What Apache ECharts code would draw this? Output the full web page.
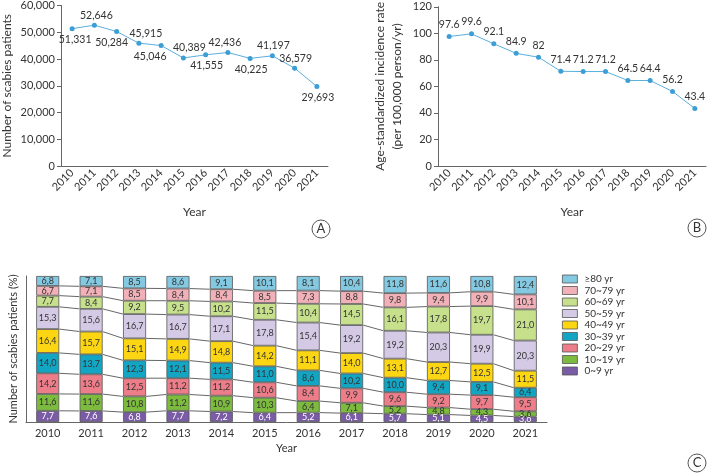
<!DOCTYPE html>
<html><head><meta charset="utf-8">
<script src="https://cdn.jsdelivr.net/npm/echarts@6/dist/echarts.min.js"></script>
<style>html,body{margin:0;padding:0;background:#fff}#c{width:707px;height:475px}</style>
</head><body><div id="c"></div>
<script>
const years = ['2010','2011','2012','2013','2014','2015','2016','2017','2018','2019','2020','2021'];
const patients = [51331,52646,50284,45915,45046,40389,41555,42436,40225,41197,36579,29693];
const incidence = [97.6,99.6,92.1,84.9,82,71.4,71.2,71.2,64.5,64.4,56.2,43.4];
const ageGroups = ['0~9 yr','10~19 yr','20~29 yr','30~39 yr','40~49 yr','50~59 yr','60~69 yr','70~79 yr','≥80 yr'];
const age0_9   = [7.7,7.6,6.8,7.7,7.2,6.4,5.2,6.1,5.7,5.1,4.5,3.6];
const age10_19 = [11.6,11.6,10.8,11.2,10.9,10.3,6.4,7.1,5.2,4.8,4.3,3.6];
const age20_29 = [14.2,13.6,12.5,11.2,11.2,10.6,8.4,9.9,9.6,9.2,9.7,9.5];
const age30_39 = [14.0,13.7,12.3,12.1,11.5,11.0,8.6,10.2,10.0,9.4,9.1,6.4];
const age40_49 = [16.4,15.7,15.1,14.9,14.8,14.2,11.1,14.0,13.1,12.7,12.5,11.5];
const age50_59 = [15.3,15.6,16.7,16.7,17.1,17.8,15.4,19.2,19.2,20.3,19.9,20.3];
const age60_69 = [7.7,8.4,9.2,9.5,10.2,11.5,10.4,14.5,16.1,17.8,19.7,21.0];
const age70_79 = [6.7,7.1,8.5,8.4,8.4,8.5,7.3,8.8,9.8,9.4,9.9,10.1];
const age80p   = [6.8,7.1,8.5,8.6,9.1,10.1,8.1,10.4,11.8,11.6,10.8,12.4];
const yTicksA = [0,10000,20000,30000,40000,50000,60000];
const yTicksB = [0,20,40,60,80,100,120];

const ageData = [age0_9,age10_19,age20_29,age30_39,age40_49,age50_59,age60_69,age70_79,age80p];
const ageColors = ['#7a5ba6','#7dbb3f','#ec7d89','#12a6c4','#fcd612','#d5cae6','#c6e08c','#f2b1b8','#84c9e2'];
// label placement style for panel A (above / below the point, small horizontal nudge in px)
const labelAboveA = [false,true,false,true,false,true,false,true,false,true,true,false];
const labelNudgeA = [3,2,-5,7,-11,6,1,-3,1,1,1,1];

const totals = years.map((y,i)=>ageData.reduce((s,a)=>s+a[i],0));
const shares = ageData.map(a=>a.map((v,i)=>v/totals[i]*100));
const cum = years.map((y,i)=>{let s=0;const r=[];for(let k=0;k<shares.length-1;k++){s+=shares[k][i];r.push(s);}return r;});

const BW = 23;
const font = 'Lato, "Noto Sans", sans-serif';
const axisCol = '#666';
const txt = '#333';

const chart = echarts.init(document.getElementById('c'));

const barSeries = ageGroups.map((g,k)=>({
  name:g, type:'bar', stack:'age', xAxisIndex:2, yAxisIndex:2, barWidth:BW,
  data: shares[k].map((v,i)=>({value:v, raw:ageData[k][i]})),
  itemStyle:{color:ageColors[k], borderColor:'#555', borderWidth:0.8},
  label:{show:true, position:'inside', fontSize:9, fontFamily:font, color: k===0 ? '#fff' : txt,
    formatter:p=>p.data.raw.toFixed(1).replace('.',',')},
  z:3
}));

const option = {
  animation:false,
  textStyle:{fontFamily:font},
  grid:[
    {left:61, top:4, width:267, height:162},
    {left:438, top:4, width:268, height:162},
    {left:19, top:276, width:528, height:146}
  ],
  xAxis:[
    {gridIndex:0, type:'category', data:years, boundaryGap:true, name:'Year', nameLocation:'middle', nameGap:40,
     nameTextStyle:{fontSize:12, color:txt, fontFamily:font},
     axisLine:{lineStyle:{color:axisCol}}, axisTick:{length:4, lineStyle:{color:axisCol}},
     axisLabel:{rotate:45, fontSize:11, color:txt, margin:5, fontFamily:font}},
    {gridIndex:1, type:'category', data:years, boundaryGap:true, name:'Year', nameLocation:'middle', nameGap:40,
     nameTextStyle:{fontSize:12, color:txt, fontFamily:font},
     axisLine:{lineStyle:{color:axisCol}}, axisTick:{length:4, lineStyle:{color:axisCol}},
     axisLabel:{rotate:45, fontSize:11, color:txt, margin:5, fontFamily:font}},
    {gridIndex:2, type:'category', data:years, boundaryGap:true, name:'Year', nameLocation:'middle', nameGap:21,
     nameTextStyle:{fontSize:11, color:txt, fontFamily:font},
     axisLine:{lineStyle:{color:axisCol}}, axisTick:{length:4, lineStyle:{color:axisCol}},
     axisLabel:{fontSize:11, color:txt, margin:6, fontFamily:font}}
  ],
  yAxis:[
    {gridIndex:0, type:'value', min:yTicksA[0], max:yTicksA[yTicksA.length-1], interval:yTicksA[1]-yTicksA[0],
     name:'Number of scabies patients', nameLocation:'middle', nameGap:48,
     nameTextStyle:{fontSize:12, color:txt, fontFamily:font},
     axisLine:{show:true, lineStyle:{color:axisCol}}, axisTick:{show:true, length:4, lineStyle:{color:axisCol}},
     splitLine:{show:false},
     axisLabel:{fontSize:11, color:txt, margin:6, fontFamily:font, formatter:v=>v.toLocaleString('en-US')}},
    {gridIndex:1, type:'value', min:yTicksB[0], max:yTicksB[yTicksB.length-1], interval:yTicksB[1]-yTicksB[0],
     name:'Age-standardized incidence rate\n(per 100,000 person/yr)', nameLocation:'middle', nameGap:32,
     nameTextStyle:{fontSize:12, color:txt, fontFamily:font, lineHeight:17},
     axisLine:{show:true, lineStyle:{color:axisCol}}, axisTick:{show:true, length:4, lineStyle:{color:axisCol}},
     splitLine:{show:false},
     axisLabel:{fontSize:11, color:txt, margin:6, fontFamily:font}},
    {gridIndex:2, type:'value', min:0, max:100,
     name:'Number of scabies patients (%)', nameLocation:'middle', nameGap:7,
     nameTextStyle:{fontSize:11, color:txt, fontFamily:font},
     axisLine:{show:true, lineStyle:{color:axisCol}}, axisTick:{show:false},
     splitLine:{show:false}, axisLabel:{show:false}}
  ],
  legend:{
    orient:'vertical', left:557, top:269, itemWidth:15, itemHeight:8, itemGap:1.5, icon:'rect',
    data: ageGroups.slice().reverse(),
    textStyle:{fontSize:10, color:txt, fontFamily:font, lineHeight:10, padding:[0,0,0,2]},
    itemStyle:{borderColor:'#555', borderWidth:0.8}
  },
  series:[
    {type:'line', xAxisIndex:0, yAxisIndex:0,
     data:patients.map((v,i)=>({value:v, label:{
        position: labelAboveA[i] ? ['50%','0%'] : ['50%','100%'],
        align:'center', verticalAlign: labelAboveA[i] ? 'bottom' : 'top',
        offset:[labelNudgeA[i], labelAboveA[i] ? -2 : 3]}})),
     symbol:'circle', symbolSize:5, color:'#3d9ed6', lineStyle:{width:1, color:'#5aaede'},
     label:{show:true, fontSize:10.5, color:txt, fontFamily:font, formatter:p=>p.value.toLocaleString('en-US')}},
    {type:'line', xAxisIndex:1, yAxisIndex:1, data:incidence,
     symbol:'circle', symbolSize:5, color:'#3d9ed6', lineStyle:{width:1, color:'#5aaede'},
     label:{show:true, position:'top', fontSize:10.5, color:txt, fontFamily:font, distance:4}},
    {type:'custom', xAxisIndex:2, yAxisIndex:2, data:years.slice(0,-1).map((y,i)=>[i]), z:2, silent:true,
     renderItem:(params, api)=>{
       const i = api.value(0);
       const children = cum[i].map((c,k)=>{
         const p1 = api.coord([i, c]);
         const p2 = api.coord([i+1, cum[i+1][k]]);
         return {type:'line', shape:{x1:p1[0]+BW/2, y1:p1[1], x2:p2[0]-BW/2, y2:p2[1]},
                 style:{stroke:'#555', lineWidth:0.9}};
       });
       return {type:'group', children};
     }},
    ...barSeries
  ],
  graphic:[
    {type:'circle', shape:{cx:321, cy:229, r:9}, style:{fill:'#fff', stroke:'#444', lineWidth:0.9}},
    {type:'text', x:321, y:229, style:{text:'A', font:'13px '+font, fill:'#333', align:'center', verticalAlign:'middle'}},
    {type:'circle', shape:{cx:697, cy:228, r:9}, style:{fill:'#fff', stroke:'#444', lineWidth:0.9}},
    {type:'text', x:697, y:228, style:{text:'B', font:'13px '+font, fill:'#333', align:'center', verticalAlign:'middle'}},
    {type:'circle', shape:{cx:697, cy:463, r:9}, style:{fill:'#fff', stroke:'#444', lineWidth:0.9}},
    {type:'text', x:697, y:463, style:{text:'C', font:'13px '+font, fill:'#333', align:'center', verticalAlign:'middle'}}
  ]
};
chart.setOption(option);
</script></body></html>
